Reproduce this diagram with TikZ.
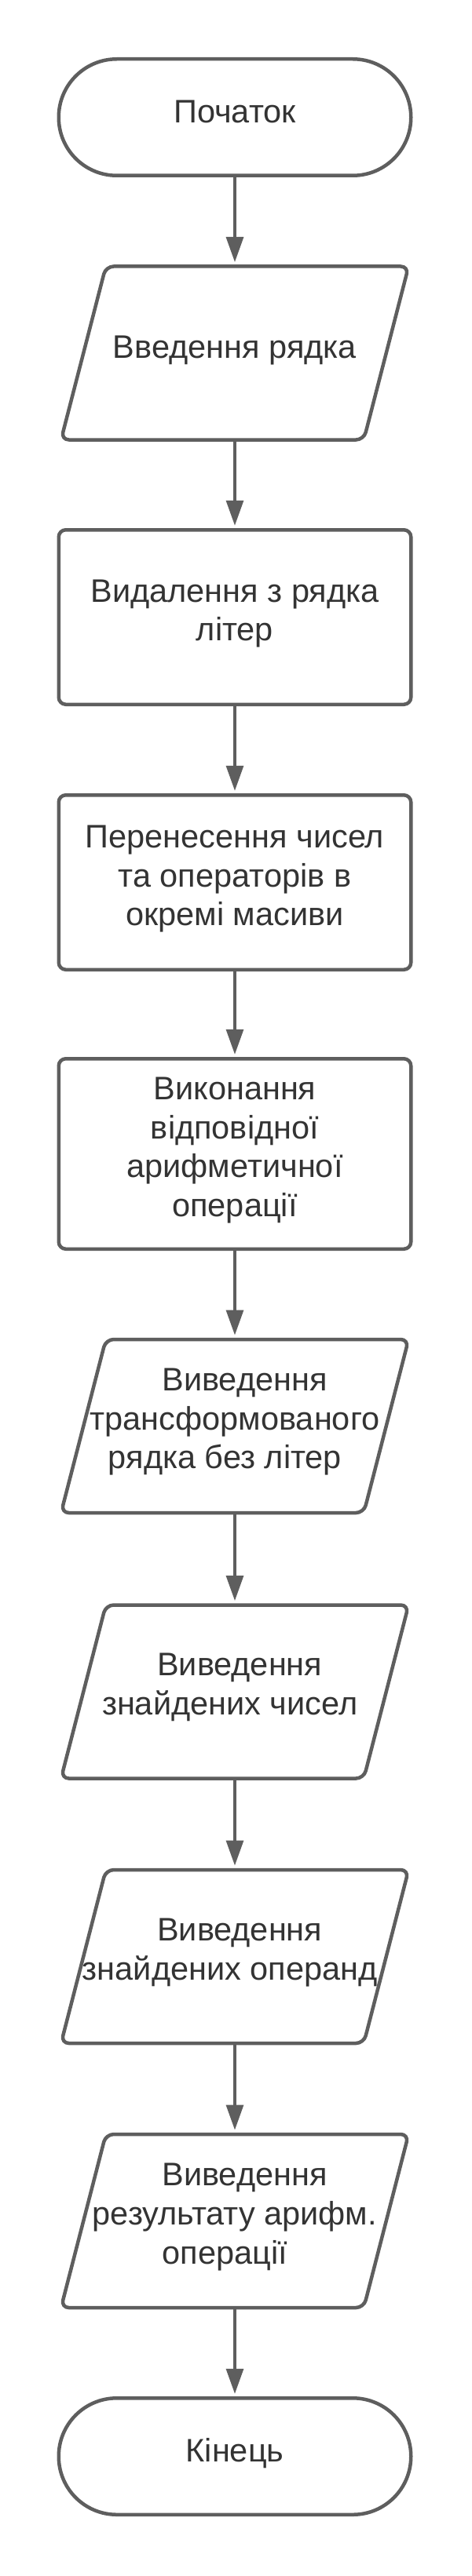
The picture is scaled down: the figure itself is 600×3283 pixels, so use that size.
\documentclass[tikz,border=0pt]{standalone}
\usepackage{fontspec}
\setmainfont{Liberation Sans}
\usepackage{xcolor}
\usepackage{tikz}
\usetikzlibrary{arrows.meta}

\definecolor{linegray}{HTML}{5E5E5E}
\definecolor{textgray}{HTML}{333333}

\begin{document}
\begin{tikzpicture}[x=1pt, y=-1pt,
   >={Triangle[length=32pt,width=22pt]},
   font=\fontsize{41.5}{49.7}\selectfont,
   txt/.style 2 args={execute at begin node={\rule{0pt}{#1}},
                      execute at end node={\rule[-#2]{0pt}{#2}}},
   base/.style={minimum width=448.5pt, minimum height=222.5pt, outer sep=0pt,
                inner sep=0pt, align=center, text=textgray, txt={31.5pt}{17.5pt}},
   term/.style={base, draw=linegray, line width=4.5pt, minimum height=148.5pt,
                rounded corners=74pt},
   proc/.style={base, draw=linegray, line width=4.5pt, rounded corners=9pt},
   io/.style={base, minimum width=442.5pt, minimum height=221pt, txt={30pt}{19pt},
              append after command={\pgfextra{
                \draw[linegray, line width=4.5pt, rounded corners=10pt]
                  ([xshift=57pt]\tikzlastnode.north west) -- (\tikzlastnode.north east)
                  -- ([xshift=-57pt]\tikzlastnode.south east)
                  -- (\tikzlastnode.south west) -- cycle;}}},
   flow/.style={->, draw=linegray, fill=linegray, line width=3.2pt,
                shorten >=5.5pt, shorten <=2pt}]
  \useasboundingbox (0,0) rectangle (600,3283);

  \node[term] (start)  at (299,149.5)  {Початок};
  \node[io]   (inp)    at (299,450)    {Введення рядка};
  \node[proc] (del)    at (299,786.5)  {Видалення з рядка\\літер};
  \node[proc, txt={36.5pt}{17.5pt}] (split) at (299,1124.5)
        {Перенесення чисел\\та операторів в\\окремі масиви};
  \node[proc, minimum height=242.5pt, txt={46.5pt}{17.5pt}] (calc) at (299,1470.5)
        {Виконання\\відповідної\\арифметичної\\операції};
  \node[io]   (outstr) at (299,1817.5)
        {\hspace*{25pt}Виведення\\трансформованого\\рядка без літер\hspace*{25pt}};
  \node[io]   (outnum) at (299,2156)
        {\hspace*{12.5pt}Виведення\\знайдених чисел\hspace*{12.5pt}};
  \node[io]   (outop)  at (299,2493.5)
        {\hspace*{12.5pt}Виведення\\знайдених операнд\hspace*{12.5pt}};
  \node[io]   (outres) at (299,2830.5)
        {\hspace*{25pt}Виведення\\результату арифм.\\операції\hspace*{25pt}};
  \node[term] (stop)   at (299,3130.5) {Кінець};

  \draw[flow] (start)  -- (inp);
  \draw[flow] (inp)    -- (del);
  \draw[flow] (del)    -- (split);
  \draw[flow] (split)  -- (calc);
  \draw[flow] (calc)   -- (outstr);
  \draw[flow] (outstr) -- (outnum);
  \draw[flow] (outnum) -- (outop);
  \draw[flow] (outop)  -- (outres);
  \draw[flow] (outres) -- (stop);
\end{tikzpicture}
\end{document}
